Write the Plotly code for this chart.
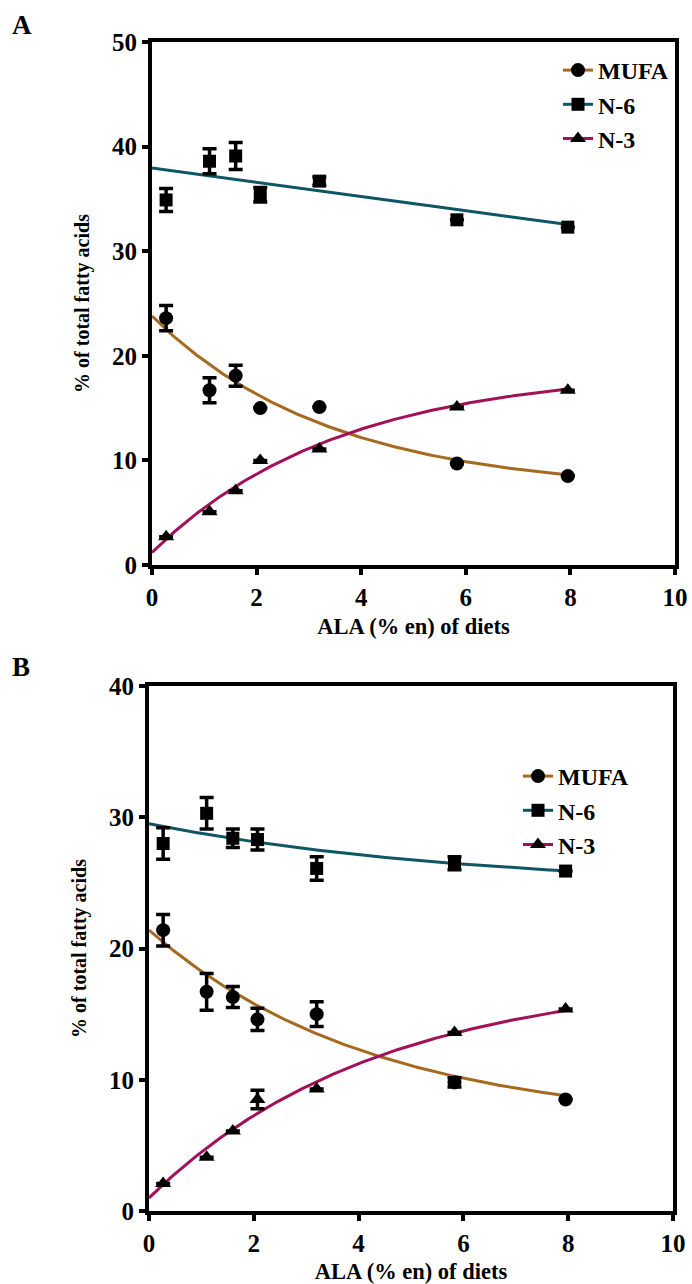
import numpy as np
import plotly.graph_objects as go

# ---------------- data ----------------
ala = [0.27, 1.1, 1.6, 2.07, 3.2, 5.83, 7.95]

# Panel A (None = error bar hidden behind marker)
a_mufa = [23.6, 16.7, 18.1, 15.0, 15.1, 9.7, 8.5]
a_mufa_sd = [1.2, 1.2, 1.0, None, None, None, None]
a_n6 = [34.9, 38.6, 39.1, 35.4, 36.7, 33.0, 32.3]
a_n6_sd = [1.1, 1.2, 1.3, 0.7, 0.4, None, None]
a_n3 = [2.7, 5.1, 7.1, 10.0, 11.1, 15.1, 16.7]
a_n3_sd = [None, None, None, None, None, None, None]

# Panel B
b_mufa = [21.4, 16.7, 16.3, 14.6, 15.0, 9.8, 8.5]
b_mufa_sd = [1.2, 1.4, 0.8, 0.85, 0.95, 0.35, None]
b_n6 = [28.0, 30.3, 28.4, 28.3, 26.1, 26.5, 25.9]
b_n6_sd = [1.2, 1.2, 0.7, 0.8, 0.9, 0.5, None]
b_n3 = [2.1, 4.1, 6.1, 8.5, 9.3, 13.6, 15.4]
b_n3_sd = [None, None, None, 0.7, None, None, None]

# fitted curve parameters (start value, plateau, rate) for one-phase exponential fits
a_mufa_fit = (23.8, 7.0, 0.294)
a_n6_fit = (37.95, -0.68)          # linear fit: intercept, slope
a_n3_fit = (1.2, 18.7, 0.28)
b_mufa_fit = (21.4, 6.5, 0.236)
b_n6_fit = (29.5, 24.5, 0.159)
b_n3_fit = (1.0, 18.0, 0.23)

series_names = ["MUFA", "N-6", "N-3"]
x_ticks = [0, 2, 4, 6, 8, 10]
a_y_ticks = [0, 10, 20, 30, 40, 50]
b_y_ticks = [0, 10, 20, 30, 40]

# ---------------- styles ----------------
C_MUFA = "#A5691F"
C_N6 = "#0E5566"
C_N3 = "#A3105A"
FONT = "Liberation Serif"

W, H = 692, 1284
xs = np.linspace(0, 7.95, 200)


def expfit(p, x):
    y0, plateau, k = p
    return plateau + (y0 - plateau) * np.exp(-k * x)


fig = go.Figure()


def add_panel(xa, ya, mufa, mufa_sd, n6, n6_sd, n3, n3_sd, fmufa, fn6, fn3, legend):
    curves = [(fmufa, C_MUFA), (fn6, C_N6), (fn3, C_N3)]
    for yv, col in curves:
        fig.add_trace(go.Scatter(x=xs, y=yv, mode="lines", xaxis=xa, yaxis=ya,
                                 line=dict(color=col, width=3), showlegend=False,
                                 hoverinfo="skip"))
    pts = [(mufa, mufa_sd, "circle", 14), (n6, n6_sd, "square", 13), (n3, n3_sd, "triangle-up", 14)]
    for (yv, sd, sym, sz), name, (_, col) in zip(pts, series_names, curves):
        fig.add_trace(go.Scatter(x=ala, y=yv, mode="markers", xaxis=xa, yaxis=ya,
                                 marker=dict(symbol=sym, color="black", size=sz),
                                 error_y=dict(type="data", array=[np.nan if v is None else v for v in sd],
                                              color="black", thickness=3.5, width=7),
                                 showlegend=False))
        fig.add_trace(go.Scatter(x=[None], y=[None], mode="lines+markers", xaxis=xa, yaxis=ya,
                                 name=name, legend=legend,
                                 line=dict(color=col, width=3),
                                 marker=dict(symbol=sym, color="black", size=sz)))


add_panel("x", "y", a_mufa, a_mufa_sd, a_n6, a_n6_sd, a_n3, a_n3_sd,
          expfit(a_mufa_fit, xs), a_n6_fit[0] + a_n6_fit[1] * xs, expfit(a_n3_fit, xs), "legend")
add_panel("x2", "y2", b_mufa, b_mufa_sd, b_n6, b_n6_sd, b_n3, b_n3_sd,
          expfit(b_mufa_fit, xs), expfit(b_n6_fit, xs), expfit(b_n3_fit, xs), "legend2")

axis_common = dict(showline=True, linecolor="black", linewidth=4, mirror=True,
                   ticks="outside", ticklen=6, tickwidth=3.5, tickcolor="black",
                   showgrid=False, zeroline=False, automargin=False,
                   tickfont=dict(family=FONT, size=25, color="black", weight="bold"))
xtitle_font = dict(family=FONT, size=22.5, color="black", weight="bold")
ytitle_font = dict(family=FONT, size=20, color="black", weight="bold")
leg_font = dict(family=FONT, size=24, color="black", weight="bold")

fig.update_layout(
    template="none",
    width=W, height=H, margin=dict(l=0, r=0, t=0, b=0, autoexpand=False),
    paper_bgcolor="white", plot_bgcolor="white",
    font=dict(family=FONT, color="black"),
    xaxis=dict(domain=[152 / W, 675 / W], range=[0, 10], tickvals=x_ticks, anchor="y",
               ticklabelstandoff=1,
               title=dict(text="ALA (% en) of diets", font=xtitle_font, standoff=9), **axis_common),
    yaxis=dict(domain=[1 - 565 / H, 1 - 42 / H], range=[0, 50], tickvals=a_y_ticks, anchor="x",
               title=dict(text="% of total fatty acids", font=ytitle_font, standoff=18), **axis_common),
    xaxis2=dict(domain=[149 / W, 673 / W], range=[0, 10], tickvals=x_ticks, anchor="y2",
                ticklabelstandoff=1,
                title=dict(text="ALA (% en) of diets", font=xtitle_font, standoff=9), **axis_common),
    yaxis2=dict(domain=[1 - 1211 / H, 1 - 686 / H], range=[0, 40], tickvals=b_y_ticks, anchor="x2",
                title=dict(text="% of total fatty acids", font=ytitle_font, standoff=18), **axis_common),
    legend=dict(x=558 / W, y=1 - 48 / H, xanchor="left", yanchor="top",
                bgcolor="rgba(0,0,0,0)", itemwidth=30, font=leg_font),
    legend2=dict(x=518 / W, y=1 - 754 / H, xanchor="left", yanchor="top",
                 bgcolor="rgba(0,0,0,0)", itemwidth=30, font=leg_font),
    annotations=[
        dict(text="A", x=10 / W, y=1 - 8 / H, xref="paper", yref="paper", xanchor="left",
             yanchor="top", showarrow=False, font=dict(family=FONT, size=27, color="black", weight="bold")),
        dict(text="B", x=10 / W, y=1 - 650 / H, xref="paper", yref="paper", xanchor="left",
             yanchor="top", showarrow=False, font=dict(family=FONT, size=27, color="black", weight="bold")),
    ],
)

fig.write_html("out.html")
